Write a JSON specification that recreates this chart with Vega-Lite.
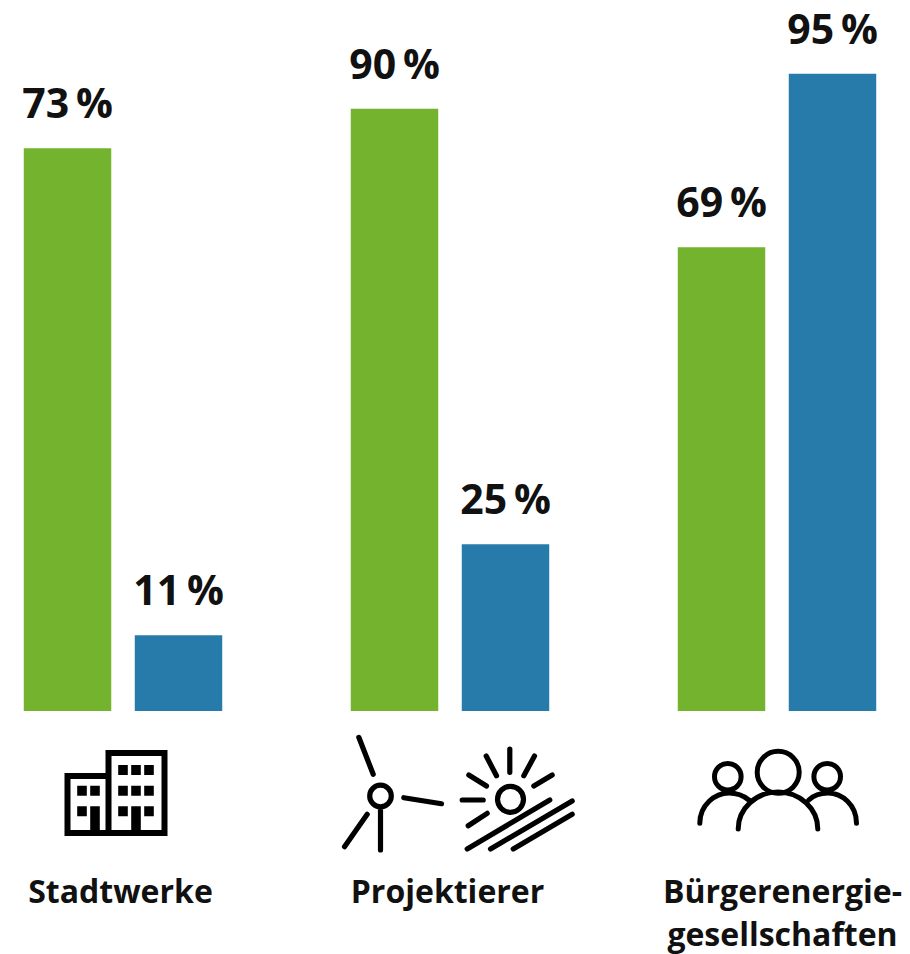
{"$schema":"https://vega.github.io/schema/vega-lite/v6.json","width":910,"height":711,"padding":{"left":0,"top":0,"right":0,"bottom":20},"background":"white","config":{"view":{"stroke":null},"font":"Open Sans"},
"datasets":{"bars":[
{"group":"Stadtwerke","series":"a","bar":84,"label":"73\u2009%"},
{"group":"Stadtwerke","series":"b","bar":11.3,"label":"11\u2009%"},
{"group":"Projektierer","series":"a","bar":89.9,"label":"90\u2009%"},
{"group":"Projektierer","series":"b","bar":24.9,"label":"25\u2009%"},
{"group":"Bürgerenergie-gesellschaften","series":"a","bar":69.2,"label":"69\u2009%"},
{"group":"Bürgerenergie-gesellschaften","series":"b","bar":95.1,"label":"95\u2009%"}],
"icons":[{"group":"Stadtwerke","icon":"building"},{"group":"Projektierer","icon":"energy"},{"group":"Bürgerenergie-gesellschaften","icon":"people"}]},
"encoding":{"x":{"field":"group","type":"nominal","sort":["Stadtwerke","Projektierer","Bürgerenergie-gesellschaften"],
"scale":{"range":[-40.5,940.5],"paddingInner":0,"paddingOuter":0},
"axis":{"title":null,"domain":false,"ticks":false,"labelAngle":0,"labelPadding":166,"labelFontSize":32,"labelFontWeight":700,"labelFont":"Open Sans","labelColor":"#111111","labelLimit":500,"labelLineHeight":43,"labelOverlap":false,"labelFlush":false,"labelBaseline":"top","labelExpr":"datum.value=='Bürgerenergie-gesellschaften' ? ['Bürgerenergie-','gesellschaften'] : datum.label","labelOffset":{"condition":{"test":"datum.value=='Bürgerenergie-gesellschaften'","value":5.5},"value":-2.5}}},
"y":{"type":"quantitative","scale":{"domain":[0,106.12],"nice":false,"zero":false},"axis":null}},
"layer":[
{"data":{"name":"bars"},"mark":{"type":"bar"},"encoding":{"y":{"field":"bar","type":"quantitative"},"xOffset":{"field":"series","type":"nominal","scale":{"paddingInner":0.212,"paddingOuter":0.579}},"color":{"field":"series","type":"nominal","legend":null,"scale":{"domain":["a","b"],"range":["#73b32e","#277bab"]}}}},
{"data":{"name":"bars"},"mark":{"type":"text","dy":-30,"baseline":"alphabetic","align":"center","fontSize":41,"fontWeight":700,"font":"Open Sans","color":"#111111"},"encoding":{"y":{"field":"bar","type":"quantitative"},"xOffset":{"field":"series","type":"nominal","scale":{"paddingInner":0.212,"paddingOuter":0.579}},"text":{"field":"label"}}},
{"data":{"name":"icons"},"transform":[{"filter":"datum.icon=='building'"}],"mark":{"type":"point","size":4,"filled":false,"opacity":1,"stroke":"black","strokeWidth":6,"fill":null,"strokeJoin":"miter","shape":"M-55.5 38V-19H-14.5V-42H41.5V38ZM-14.5 -19V38"},"encoding":{"y":{"datum":-12.54}}},
{"data":{"name":"icons"},"transform":[{"filter":"datum.icon=='building'"}],"mark":{"type":"point","size":4,"filled":true,"opacity":1,"color":"black","strokeWidth":0,"shape":"M-4.8 -30h9.6v10h-9.6zM8.2 -30h9.6v10h-9.6zM21.2 -30h9.6v10h-9.6zM-4.8 -9.3h9.6v10h-9.6zM8.2 -9.3h9.6v10h-9.6zM21.2 -9.3h9.6v10h-9.6zM-4.8 11.3h9.6v10h-9.6zM21.2 11.3h9.6v10h-9.6zM8.2 11.3h9.6v26.7h-9.6zM-45.8 -9.3h9.6v10h-9.6zM-32.8 -9.3h9.6v10h-9.6zM-45.8 11.3h9.6v10h-9.6zM-32.8 11.3h9.6v26.7h-9.6z"},"encoding":{"y":{"datum":-12.54}}},
{"data":{"name":"icons"},"transform":[{"filter":"datum.icon=='energy'"}],"mark":{"type":"point","size":4,"filled":false,"opacity":1,"stroke":"black","strokeWidth":5.2,"fill":null,"strokeCap":"round","shape":"M-80.3 1A10.8 10.8 0 1 0 -58.7 1A10.8 10.8 0 1 0 -80.3 1M-91.2 -57.7L-76.8 -20.7M-46.2 2.7L-8.5 8.7M-82.8 19.3L-105.5 51.7M-69.5 15L-69.5 55M47.5 4.3A13 13 0 1 0 73.5 4.3A13 13 0 1 0 47.5 4.3M12.2 5L33.2 5M18.8 -20L36.5 -9M36.2 -39L46.5 -19.3M59.8 -46L59.8 -22.7M84.5 -39L73.8 -19.3M102.2 -20L83.8 -9M37.2 18.3L18.2 30.7M17.2 54L99.8 5M40.5 54L122.2 6M63.2 54L122.2 19.3"},"encoding":{"y":{"datum":-12.54}}},
{"data":{"name":"icons"},"transform":[{"filter":"datum.icon=='people'"}],"mark":{"type":"point","size":4,"filled":false,"opacity":1,"stroke":"black","strokeWidth":5,"fill":null,"strokeCap":"round","shape":"M-19.8 -22.7A21 21 0 1 0 22.2 -22.7A21 21 0 1 0 -19.8 -22.7M-62.5 -18.3A13.3 13.3 0 1 0 -35.9 -18.3A13.3 13.3 0 1 0 -62.5 -18.3M36.9 -18.3A13.3 13.3 0 1 0 63.5 -18.3A13.3 13.3 0 1 0 36.9 -18.3M-38.8 34A39.8 37 0 0 1 40.8 34M-77.2 28.3C-77.2 10 -62 -2 -48 -2C-40 -2 -33 1 -28.2 5M79.5 28.3C79.5 10 65 -2 51 -2C43 -2 36 1 31.8 5"},"encoding":{"y":{"datum":-12.54}}}
]}
